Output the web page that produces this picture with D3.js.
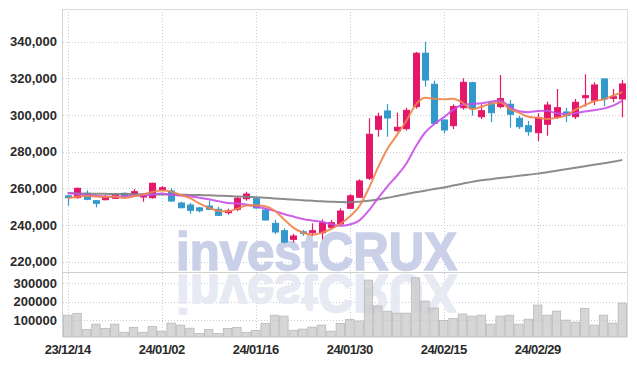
<!DOCTYPE html>
<html>
<head>
<meta charset="utf-8">
<script src="https://cdn.jsdelivr.net/npm/d3@7"></script>
<style>
  body { margin: 0; background: #fff; }
  svg { display: block; font-family: "Liberation Sans", Arial, sans-serif; }
</style>
</head>
<body>
<div id="chart"></div>
<script>
// Daily candles, 23/12/14 .. 24/03/14
const dates = [
  "23/12/14","23/12/15","23/12/18","23/12/19","23/12/20","23/12/21","23/12/22","23/12/26","23/12/27","23/12/28",
  "24/01/02","24/01/03","24/01/04","24/01/05","24/01/08","24/01/09","24/01/10","24/01/11","24/01/12","24/01/15",
  "24/01/16","24/01/17","24/01/18","24/01/19","24/01/22","24/01/23","24/01/24","24/01/25","24/01/26","24/01/29",
  "24/01/30","24/01/31","24/02/01","24/02/02","24/02/05","24/02/06","24/02/07","24/02/08","24/02/13","24/02/14",
  "24/02/15","24/02/16","24/02/19","24/02/20","24/02/21","24/02/22","24/02/23","24/02/26","24/02/27","24/02/28",
  "24/02/29","24/03/04","24/03/05","24/03/06","24/03/07","24/03/08","24/03/11","24/03/12","24/03/13","24/03/14"
];
const open = [
  256000,255000,257400,253350,253890,254650,257380,257000,255360,254980,
  259170,258630,252090,251000,249450,250450,248660,246800,248660,254440,
  254440,248270,241000,237000,232300,236400,235900,235900,238850,240640,
  249200,255200,265550,292260,302230,291500,292580,304600,333700,316800,
  297300,294220,304030,317650,299120,306430,304600,305900,298250,294220,
  290400,295000,298800,301690,299120,309480,308060,319670,309150,308770
];
const high = [
  256500,260500,259000,253600,256450,257300,257800,259720,257200,263200,
  261350,260100,252800,252090,250000,253350,250000,249000,255530,258250,
  255000,249370,242830,238300,235300,237380,241000,243200,242830,249200,
  256900,265000,298250,301300,306050,301300,304000,334400,340000,318750,
  297800,305900,320050,318200,305900,307700,321850,308230,299500,296780,
  300980,307300,314220,304000,308770,322230,317870,320000,314220,319120
];
const low = [
  250500,254500,253600,249750,253560,254300,255700,256450,252800,254500,
  258630,252800,249200,246260,247000,248300,245000,245800,247570,253350,
  249000,242500,235200,230130,230600,234100,234100,232300,237760,240300,
  248800,254800,264630,288230,288230,291000,291500,303500,315500,295000,
  290000,292420,302940,299670,297870,296070,303700,293130,292420,288770,
  285880,288770,298000,296070,297870,304600,305500,304800,307000,298800
];
const close = [
  255000,260100,254100,251930,255360,256830,256070,258250,256830,262830,
  260430,253180,249530,248110,247890,248660,245390,247890,254650,257000,
  249370,242830,236300,230800,234100,235900,237000,241360,241360,247730,
  256000,264100,289530,299340,298420,293350,302590,333700,319100,295500,
  291900,304600,317870,303700,302400,301300,308950,300430,293670,290950,
  298580,305500,304030,299670,306970,310570,316400,308770,310020,316950
];
const volume = [
  127000,137000,49000,78000,55000,78000,34000,60000,34000,66000,
  40000,84000,73000,56000,27000,49000,27000,55000,60000,34000,
  44000,82000,127000,122000,45000,51000,62000,73000,40000,82000,
  104000,95000,318000,177000,149000,138000,138000,330000,204000,166000,
  98000,109000,133000,122000,127000,78000,122000,127000,78000,105000,
  182000,127000,149000,100000,89000,164000,73000,127000,84000,193000
];
// moving averages as drawn in the picture
const ma5 = [
  254700,255500,255900,255700,255300,255660,254860,255690,256670,258160,
  258880,258300,256560,254820,251830,249470,247920,247590,248900,250720,
  250860,250350,248030,243260,238680,235990,234820,235830,237940,240670,
  244690,250110,259740,271340,281480,288950,296650,305480,309430,308850,
  308560,308960,306800,303200,304500,306100,306840,303360,301350,299060,
  298520,297830,298550,299750,302950,305350,307530,308480,310550,312540
];
const ma10 = [
  257500,257000,256500,256000,255600,255500,255700,256000,256300,256730,
  257270,256580,256120,255740,255000,254180,253110,252070,251860,251270,
  250170,249130,247810,246080,244700,243420,242580,241930,240600,239680,
  240340,242470,247790,254640,261070,266800,273360,282590,290370,295140,
  298750,302800,305640,306070,306470,307270,307900,304580,302030,301580,
  302250,302340,300950,300550,301010,301930,302680,303510,305150,307750
];
const ma60 = [
  257400,257300,257200,257200,257100,257000,257000,256900,256800,256800,
  256700,256600,256600,256500,256400,256300,256100,255900,255700,255500,
  255200,254900,254600,254300,254000,253600,253300,253000,252800,252600,
  252500,252800,253300,254000,254900,255900,256900,257900,258800,259700,
  260600,261600,262600,263600,264500,265100,265700,266300,266900,267500,
  268100,268900,269700,270500,271300,272100,272900,273700,274600,275500
];
const priceTicks = [220000, 240000, 260000, 280000, 300000, 320000, 340000];
const volTicks = [100000, 200000, 300000];
const labelEvery = 10;

const width = 637, height = 366;
const plotL = 63, plotR = 627, plotT = 9, split = 272, plotB = 337;

const svg = d3.select("#chart").append("svg")
  .attr("width", width)
  .attr("height", height);

const x = d3.scaleBand().domain(dates).range([plotL, plotR]).padding(0);
const cx = d => x(d) + x.bandwidth() / 2;

const y = d3.scaleLinear().domain([214500, 357800]).range([split, plotT]);
const yv = d3.scaleLinear().domain([0, 362000]).range([338.5, split]);

const grid = "#c9cbdc";

// --- grid ---
const g = svg.append("g");
g.selectAll(".hgrid")
  .data(priceTicks)
  .join("line")
  .attr("x1", plotL).attr("x2", plotR)
  .attr("y1", d => Math.round(y(d)) + 0.5).attr("y2", d => Math.round(y(d)) + 0.5)
  .attr("stroke", grid).attr("stroke-dasharray", "1,2");

g.selectAll(".vgridv")
  .data(volTicks)
  .join("line")
  .attr("x1", plotL).attr("x2", plotR)
  .attr("y1", d => Math.round(yv(d)) + 0.5).attr("y2", d => Math.round(yv(d)) + 0.5)
  .attr("stroke", grid).attr("stroke-dasharray", "1,2");

const labelDates = dates.filter((d, i) => i % labelEvery === 0);
g.selectAll(".xgrid")
  .data(labelDates)
  .join("line")
  .attr("x1", d => Math.round(cx(d)) + 0.5).attr("x2", d => Math.round(cx(d)) + 0.5)
  .attr("y1", plotT).attr("y2", plotB)
  .attr("stroke", grid).attr("stroke-dasharray", "1,2");

// --- frame ---
svg.append("line").attr("x1", plotL).attr("x2", plotR).attr("y1", plotT + 0.5).attr("y2", plotT + 0.5).attr("stroke", "#dcdcdc");
svg.append("line").attr("x1", plotL - 0.5).attr("x2", plotL - 0.5).attr("y1", plotT).attr("y2", plotB).attr("stroke", "#d4d4d4");
svg.append("line").attr("x1", plotR + 0.5).attr("x2", plotR + 0.5).attr("y1", plotT).attr("y2", plotB).attr("stroke", "#dcdcdc");
svg.append("line").attr("x1", plotL).attr("x2", plotR).attr("y1", split + 0.5).attr("y2", split + 0.5).attr("stroke", "#cfcfcf");

// --- watermark + reflection ---
const wm = svg.append("g")
  .style("font-size", "53px").style("font-weight", "bold")
  .attr("stroke-width", 1.6)
  .attr("pointer-events", "none");
wm.append("text")
  .attr("x", 176).attr("y", 270)
  .attr("textLength", 281).attr("lengthAdjust", "spacingAndGlyphs")
  .attr("fill", "#c9d0e8").attr("stroke", "#c9d0e8")
  .text("investCRUX");
wm.append("text")
  .attr("x", 176).attr("y", 270)
  .attr("transform", "translate(0,545) scale(1,-1)")
  .attr("textLength", 281).attr("lengthAdjust", "spacingAndGlyphs")
  .attr("fill", "#e7e9f3").attr("stroke", "#e7e9f3")
  .text("investCRUX");

// --- volume bars ---
svg.append("g")
  .selectAll("rect")
  .data(dates)
  .join("rect")
  .attr("x", d => x(d) + 0.5)
  .attr("width", x.bandwidth() - 1)
  .attr("y", (d, i) => yv(volume[i]))
  .attr("height", (d, i) => plotB - yv(volume[i]))
  .attr("fill", "#c8c8c8").attr("fill-opacity", 0.75)
  .attr("stroke", "#b9b9b9").attr("stroke-width", 0.8);

// --- candles ---
const up = "#e3186b", down = "#3399cc";
const candle = svg.append("g")
  .selectAll("g")
  .data(dates)
  .join("g")
  .attr("stroke", (d, i) => close[i] >= open[i] ? up : down)
  .attr("fill", (d, i) => close[i] >= open[i] ? up : down);

candle.append("line")
  .attr("x1", d => Math.round(cx(d)) + 0.5).attr("x2", d => Math.round(cx(d)) + 0.5)
  .attr("y1", (d, i) => y(high[i])).attr("y2", (d, i) => y(low[i]))
  .attr("stroke-width", 1.2);

const bodyW = 6;
candle.append("rect")
  .attr("x", d => Math.round(cx(d)) + 0.5 - bodyW / 2)
  .attr("width", bodyW)
  .attr("y", (d, i) => y(Math.max(open[i], close[i])))
  .attr("height", (d, i) => Math.max(1.5, Math.abs(y(open[i]) - y(close[i]))))
  .attr("stroke-width", 1);

// --- moving averages ---
const maLine = vals => d3.line()
  .x(d => cx(d))
  .y((d, i) => y(vals[i]))
  .curve(d3.curveMonotoneX)(dates);

[[ma60, "#7f7f7f"], [ma10, "#c94fe8"], [ma5, "#f0844c"]].forEach(([vals, col]) => {
  svg.append("path")
    .attr("d", maLine(vals))
    .attr("fill", "none")
    .attr("stroke", col)
    .attr("stroke-width", 2)
    .attr("stroke-opacity", 0.9);
});

// --- axes labels ---
const fmt = d3.format(",");
svg.append("g")
  .selectAll("text")
  .data(priceTicks)
  .join("text")
  .attr("x", 57).attr("y", d => y(d))
  .attr("dy", "0.35em")
  .attr("text-anchor", "end")
  .style("font-size", "13px")
  .style("font-weight", "bold")
  .attr("fill", "#2a2a2a")
  .text(d => fmt(d));

svg.append("g")
  .selectAll("text")
  .data(volTicks)
  .join("text")
  .attr("x", 57).attr("y", d => yv(d))
  .attr("dy", "0.35em")
  .attr("text-anchor", "end")
  .style("font-size", "13px")
  .style("font-weight", "bold")
  .attr("fill", "#2a2a2a")
  .text(d => d);

svg.append("g")
  .selectAll("text")
  .data(labelDates)
  .join("text")
  .attr("x", d => cx(d)).attr("y", 354)
  .attr("text-anchor", "middle")
  .style("font-size", "13px")
  .style("font-weight", "bold")
  .style("letter-spacing", "-0.6px")
  .attr("fill", "#2a2a2a")
  .text(d => d);
</script>
</body>
</html>
